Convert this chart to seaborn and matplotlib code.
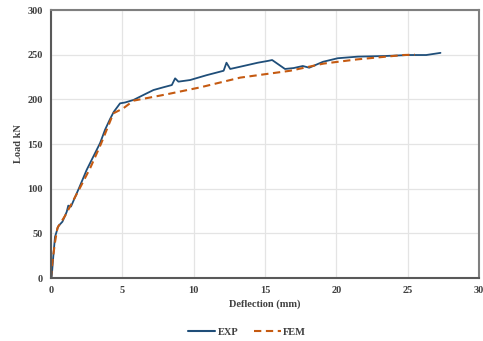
import matplotlib
matplotlib.use("Agg")
import matplotlib.pyplot as plt
import seaborn as sns
import pandas as pd

exp_x = [0, 0.05, 0.16, 0.28, 0.51, 0.8, 1.1, 1.21, 1.4, 2.0, 2.5, 3.0, 3.44, 3.79, 4.14, 4.4, 4.84, 5.2,
         5.78, 6.48, 7.18, 7.88, 8.47, 8.7, 8.93, 9.75, 10.9, 12.1, 12.3, 12.56, 13.26, 14.5, 15.2, 15.5,
         16.4, 17.0, 17.65, 18.1, 19.06, 20.1, 21.5, 23.4, 25.05, 26.3, 27.3]
exp_y = [0, 2, 24, 46, 58, 63, 74, 81, 80, 102, 121, 137, 151, 166, 178, 186, 195.5, 196.5,
         199.3, 204.9, 210.4, 213.5, 216, 223.5, 219.8, 221.6, 227, 232, 241, 234, 236.5, 241, 243, 244,
         234, 235, 237.3, 235.4, 242, 246, 247.8, 248.5, 249.6, 249.6, 252]

fem_x = [0, 0.1, 0.28, 0.45, 1.0, 2.0, 2.74, 3.5, 4.37, 5.07, 5.78, 8.1, 10.46, 13.26, 16.77, 19.1,
         21.45, 24.7, 25.5]
fem_y = [0, 18, 40, 56, 70, 100, 122.8, 150, 184.3, 190, 198.5, 205.6, 213.4, 224.3, 232, 240,
         244.7, 249.6, 250]

df = pd.concat([
    pd.DataFrame({"Deflection": exp_x, "Load": exp_y, "Series": "EXP"}),
    pd.DataFrame({"Deflection": fem_x, "Load": fem_y, "Series": "FEM"}),
])

sns.set_style("white")
plt.rcParams['font.family'] = ['Liberation Serif', 'DejaVu Serif']

fig = plt.figure(figsize=(4.83, 3.41), dpi=100)
ax = fig.add_axes([51/483, 1-278/341, 428/483, 268/341])

sns.lineplot(data=df, x="Deflection", y="Load", hue="Series", style="Series",
             palette={"EXP": "#1f4e79", "FEM": "#c55a11"},
             dashes={"EXP": "", "FEM": (3.5, 2.2)}, ax=ax, sort=False)
ax.lines[0].set_linewidth(1.3)
ax.lines[1].set_linewidth(1.5)

ax.set_xlim(0, 30)
ax.set_ylim(0, 300)
ax.set_xticks(range(0, 31, 5))
ax.set_yticks(range(0, 301, 50))
ax.grid(True, color="#e4e4e4", linewidth=0.9)
ax.set_axisbelow(True)
for s in ["left", "bottom"]:
    ax.spines[s].set_color("#595959")
    ax.spines[s].set_linewidth(1.5)
for s in ["top", "right"]:
    ax.spines[s].set_color("#7f7f7f")
    ax.spines[s].set_linewidth(1.5)
ax.tick_params(axis="both", length=0, labelsize=7.5, pad=6, colors="#404040")
for lab in ax.get_xticklabels() + ax.get_yticklabels():
    lab.set_fontweight("bold")
ax.set_xlabel("Deflection (mm)", fontsize=7.5, fontweight="bold", color="#404040", labelpad=3)
ax.set_ylabel("Load kN", fontsize=7.5, fontweight="bold", color="#404040", labelpad=3)

h, l = ax.get_legend_handles_labels()
ax.get_legend().remove()
fig.legend(h, l, loc="center", bbox_to_anchor=(247/483, 1-332/341), ncol=2, frameon=False,
           prop={"family": "Liberation Serif", "weight": "bold", "size": 7.5},
           handlelength=2.6, columnspacing=1.5, handletextpad=0.2, labelcolor="#404040")

fig.savefig("out.png", dpi=100)
